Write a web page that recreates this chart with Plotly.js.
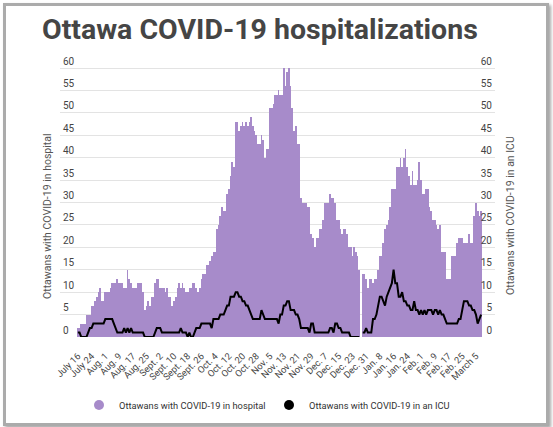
<!DOCTYPE html>
<html>
<head>
<meta charset="utf-8">
<script src="https://cdn.plot.ly/plotly-3.0.1.min.js"></script>
<style>
  html, body { margin: 0; padding: 0; background: #fff; }
  #wrap { position: relative; width: 553px; height: 427px; }
  #chart { position: absolute; left: 0; top: 0; width: 553px; height: 427px; }
  #frame { position: absolute; left: 3px; top: 3px; width: 540px; height: 417px;
           border: 3px solid #ababab; box-shadow: 2px 2px 3px rgba(0,0,0,0.35);
           pointer-events: none; }
</style>
</head>
<body>
<div id="wrap">
  <div id="chart"></div>
  <div id="frame"></div>
</div>
<script>
// ---- data (daily, starting July 16, 2020) ----
const startDate = '2020-07-16';

const hospital = [
  2,2,3,3,3,5,5,5,7,7,
  8,9,10,11,8,8,10,10,10,11,
  12,12,12,13,12,12,12,11,11,15,
  13,12,11,11,11,12,12,12,10,6,
  7,8,7,9,9,12,13,13,11,11,
  11,10,11,9,9,7,8,9,11,12,
  11,12,11,10,10,11,11,12,12,11,
  10,11,13,14,14,16,16,17,18,19,
  19,24,25,27,29,28,28,32,33,36,
  39,38,48,48,46,47,48,47,48,47,
  48,49,47,46,45,43,43,45,44,40,
  42,42,51,51,52,54,54,55,54,54,
  60,56,59,60,56,51,46,47,43,43,
  31,30,30,30,29,29,23,22,20,22,
  22,24,24,26,30,30,30,32,31,31,
  30,26,26,24,23,24,24,23,20,20,
  18,20,19,18,15,null,14,14,13,11,
  13,13,12,13,13,15,18,18,21,24,
  25,26,29,33,33,33,38,38,40,38,
  40,42,38,36,34,37,34,34,35,39,
  35,32,32,33,33,29,28,26,26,25,
  24,25,19,19,19,13,13,13,18,18,
  18,21,22,22,22,21,21,21,23,21,
  21,27,30,28,27,28
];

const icu = [
  1,1,0,0,0,0,1,2,2,3,
  3,3,3,3,3,3,4,4,4,4,
  4,3,2,1,1,1,1,2,1,2,
  1,2,1,1,1,1,1,1,1,0,
  0,0,0,0,0,1,2,2,2,1,
  1,1,1,1,1,1,1,1,1,1,
  2,1,1,1,0,1,0,0,1,2,
  2,2,3,3,3,3,3,3,2,4,
  4,4,4,5,5,5,6,7,7,9,
  9,9,10,10,9,9,8,8,7,7,
  6,5,4,4,4,4,4,6,5,4,
  4,4,4,4,4,4,4,3,5,5,
  7,7,8,8,6,6,6,5,5,4,
  2,2,2,2,2,1,3,3,1,1,
  1,1,1,1,1,1,1,2,2,1,
  3,3,2,2,1,1,1,1,1,0,
  0,0,0,0,0,null,1,1,2,1,
  1,1,4,4,5,7,9,9,8,7,
  9,10,11,12,15,12,12,9,9,10,
  8,8,7,7,6,6,8,6,6,5,
  6,5,6,5,6,6,6,5,6,6,
  5,6,5,5,4,3,3,3,3,3,
  3,3,4,4,6,8,8,8,7,7,
  6,6,5,3,4,5
];

const tickDates = ['2020-07-16','2020-07-24','2020-08-01','2020-08-09','2020-08-17','2020-08-25',
  '2020-09-02','2020-09-10','2020-09-18','2020-09-26','2020-10-04','2020-10-12','2020-10-20',
  '2020-10-28','2020-11-05','2020-11-13','2020-11-21','2020-11-29','2020-12-07','2020-12-15',
  '2020-12-23','2020-12-31','2021-01-08','2021-01-16','2021-01-24','2021-02-01','2021-02-09',
  '2021-02-17','2021-02-25','2021-03-05'];
const tickLabels = ['July 16','July 24','Aug. 1','Aug. 9','Aug. 17','Aug. 25','Sept. 2','Sept. 10',
  'Sept. 18','Sept. 26','Oct. 4','Oct. 12','Oct. 20','Oct. 28','Nov. 5','Nov. 13','Nov. 21',
  'Nov. 29','Dec. 7','Dec. 15','Dec. 23','Dec. 31','Jan. 8','Jan. 16','Jan. 24','Feb. 1',
  'Feb. 9','Feb. 17','Feb. 25','March 5'];

const seriesNames = ['Ottawans with COVID-19 in hospital', 'Ottawans with COVID-19 in an ICU'];
const yTickVals = [0,5,10,15,20,25,30,35,40,45,50,55,60];

// ---- build date categories ----
const DAY = 86400000;
const t0 = Date.parse(startDate + 'T00:00:00Z');
function iso(ms) { return new Date(ms).toISOString().slice(0,19).replace('T',' '); }
const dates = hospital.map((_, i) => iso(t0 + i * DAY));

const purple = '#a78bca';
const font = 'Roboto, "Noto Sans", Arial, sans-serif';

const traces = [
  { type: 'bar', x: dates, y: hospital,
    marker: { color: purple, line: { width: 0 } },
    showlegend: false, hoverinfo: 'skip', yaxis: 'y' },
  { type: 'scatter', mode: 'lines', x: dates, y: icu, line: { color: '#000', width: 2 },
    connectgaps: false, showlegend: false, hoverinfo: 'skip', yaxis: 'y2' },
  { type: 'scatter', mode: 'markers', x: [null], y: [null], name: seriesNames[0],
    marker: { color: purple, size: 10, symbol: 'circle' } },
  { type: 'scatter', mode: 'markers', x: [null], y: [null], name: seriesNames[1],
    marker: { color: '#000', size: 10, symbol: 'circle' } }
];

const yTop = 60 + 14 / 4.483;
const yCommon = {
  range: [0, yTop], tickvals: yTickVals, ticklabelposition: 'inside top',
  tickfont: { family: font, size: 10, color: '#444' }, ticks: '', showline: false,
  zeroline: false, fixedrange: true
};

const layout = {
  width: 553, height: 427,
  paper_bgcolor: '#fff', plot_bgcolor: '#fff',
  margin: { l: 60, r: 58, t: 54, b: 90 },
  font: { family: font, color: '#333' },
  title: { text: 'Ottawa COVID-19 hospitalizations', xref: 'container', yref: 'container',
           x: 42/553, xanchor: 'left', y: 1 - 29/427, yanchor: 'middle',
           font: { family: font, size: 28.5, weight: 700, color: '#454545' } },
  bargap: 0,
  xaxis: {
    type: 'date', range: [iso(t0 - 10.4 * DAY), iso(t0 + 243.1 * DAY)],
    tickvals: tickDates, ticktext: tickLabels, tickangle: -45,
    ticks: 'outside', ticklen: 9, tickcolor: 'rgba(0,0,0,0)',
    tickfont: { family: font, size: 9.3, color: '#444' }, showgrid: false,
    showline: false, zeroline: false, fixedrange: true
  },
  yaxis: Object.assign({}, yCommon, { side: 'left', gridcolor: '#e3e3e3', gridwidth: 1 }),
  yaxis2: Object.assign({}, yCommon, { side: 'right', overlaying: 'y', showgrid: false }),
  annotations: [
    { text: 'Ottawans with COVID-19 in hospital', xref: 'paper', yref: 'paper',
      x: (47 - 60) / 435, y: (337 - 217) / 283, textangle: -90, showarrow: false,
      xanchor: 'center', yanchor: 'middle', font: { family: font, size: 10.5, color: '#555' } },
    { text: 'Ottawans with COVID-19 in an ICU', xref: 'paper', yref: 'paper',
      x: (510 - 60) / 435, y: (337 - 216) / 283, textangle: -90, showarrow: false,
      xanchor: 'center', yanchor: 'middle', font: { family: font, size: 10.5, color: '#555' } }
  ],
  showlegend: true,
  legend: { orientation: 'h', xref: 'container', yref: 'container',
            x: 79/553, xanchor: 'left', y: 1 - 405/427, yanchor: 'middle',
            font: { family: font, size: 9.3, color: '#333' }, entrywidth: 145,
            bgcolor: 'rgba(0,0,0,0)' }
};

Plotly.newPlot('chart', traces, layout, { displayModeBar: false, staticPlot: true });
</script>
</body>
</html>
